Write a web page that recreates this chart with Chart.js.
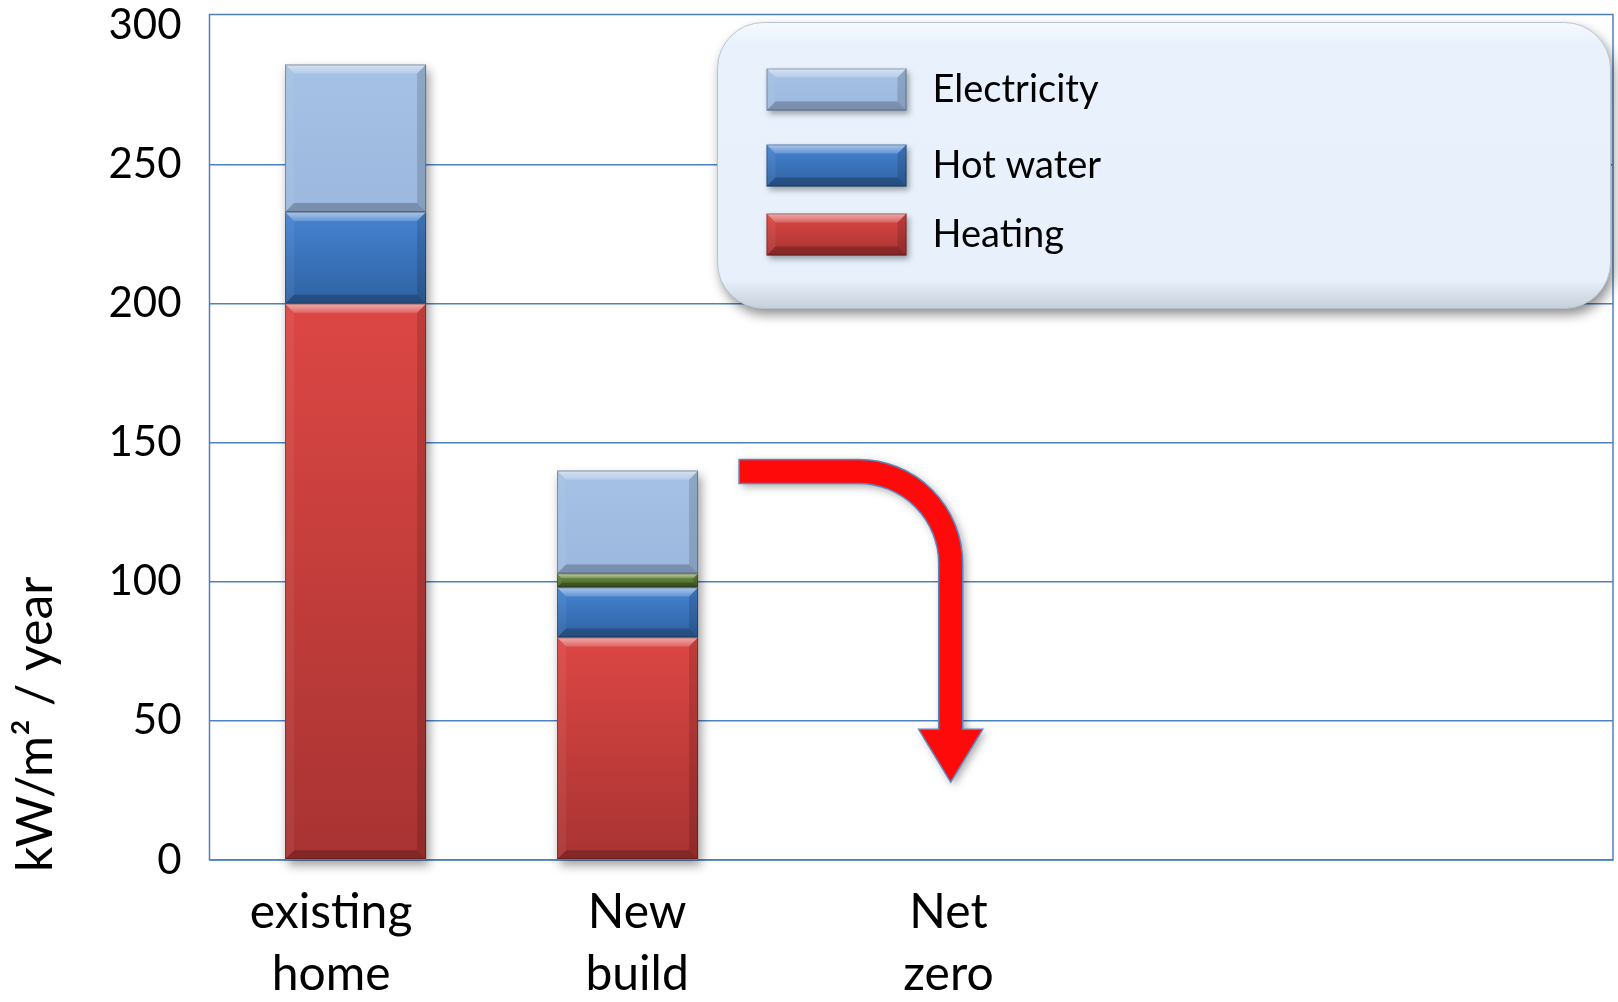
<!DOCTYPE html>
<html><head><meta charset="utf-8">
<script src="https://cdn.jsdelivr.net/npm/chart.js@4.4.1/dist/chart.umd.min.js"></script>
<style>html,body{margin:0;padding:0;background:#fff;overflow:hidden}canvas{display:block}</style>
</head><body>
<canvas id="c" width="1618" height="1002"></canvas>
<script>
// ---- data ----
const categories = ['existing home', 'New build', 'Net zero'];
const heating = [200, 80, 0];
const hotWater = [33, 18, 0];
const greenBand = [0, 5, 0];
const electricity = [53, 37, 0];
const seriesNames = ['Heating', 'Hot water', '', 'Electricity'];
const yAxisTitle = 'kW/m² / year';
const yTickStep = 50;
const yTickMax = 300;

const seriesData = [heating, hotWater, greenBand, electricity];
const palette = [
  ['#DC4744', '#A83332'],
  ['#4684D2', '#2F62A3'],
  ['#71913F', '#42602A'],
  ['#A5C1E5', '#9CB8DE']
];
const FONT = "Lato, 'Open Sans', sans-serif";
const BLUE = '#4F81BD';

function gradFill(ctx, y0, y1, s) {
  const g = ctx.createLinearGradient(0, y0, 0, y1);
  g.addColorStop(0, palette[s][0]);
  g.addColorStop(1, palette[s][1]);
  return g;
}
function fillFor(s) {
  return (c) => {
    const chart = c.chart;
    if (c.type !== 'data' || !chart.chartArea || !chart.scales.y) return palette[s][0];
    let lo = 0;
    for (let k = 0; k < s; k++) lo += seriesData[k][c.dataIndex] || 0;
    const hi = lo + (seriesData[s][c.dataIndex] || 0);
    const y = chart.scales.y;
    const y0 = y.getPixelForValue(hi), y1 = y.getPixelForValue(lo);
    if (!(y1 - y0 > 1)) return palette[s][0];
    return gradFill(chart.ctx, y0, y1, s);
  };
}
function drawBevel(ctx, x0, y0, x1, y1) {
  const b = Math.min(9, (y1 - y0) / 3, (x1 - x0) / 3);
  const poly = (pts, col) => {
    ctx.beginPath(); ctx.moveTo(pts[0][0], pts[0][1]);
    for (let i = 1; i < pts.length; i++) ctx.lineTo(pts[i][0], pts[i][1]);
    ctx.closePath(); ctx.fillStyle = col; ctx.fill();
  };
  const tg = ctx.createLinearGradient(0, y0, 0, y0 + b);
  tg.addColorStop(0, 'rgba(255,255,255,0.55)'); tg.addColorStop(1, 'rgba(255,255,255,0.18)');
  poly([[x0, y0], [x1, y0], [x1 - b, y0 + b], [x0 + b, y0 + b]], tg);
  poly([[x0, y1], [x1, y1], [x1 - b, y1 - b], [x0 + b, y1 - b]], 'rgba(0,0,0,0.22)');
  poly([[x0, y0], [x0 + b, y0 + b], [x0 + b, y1 - b], [x0, y1]], 'rgba(255,255,255,0.06)');
  poly([[x1, y0], [x1 - b, y0 + b], [x1 - b, y1 - b], [x1, y1]], 'rgba(0,0,0,0.14)');
  ctx.strokeStyle = 'rgba(0,0,0,0.28)'; ctx.lineWidth = 1;
  ctx.strokeRect(x0 + 0.5, y0 + 0.5, x1 - x0 - 1, y1 - y0 - 1);
}
function roundRect(ctx, x, y, w, h, r) {
  ctx.beginPath();
  ctx.moveTo(x + r, y);
  ctx.lineTo(x + w - r, y); ctx.arcTo(x + w, y, x + w, y + r, r);
  ctx.lineTo(x + w, y + h - r); ctx.arcTo(x + w, y + h, x + w - r, y + h, r);
  ctx.lineTo(x + r, y + h); ctx.arcTo(x, y + h, x, y + h - r, r);
  ctx.lineTo(x, y + r); ctx.arcTo(x, y, x + r, y, r);
  ctx.closePath();
}

const framePlugin = {
  id: 'frame',
  beforeDatasetsDraw(chart) {
    const ctx = chart.ctx, a = chart.chartArea, y = chart.scales.y;
    ctx.save();
    ctx.strokeStyle = BLUE; ctx.lineWidth = 1.5;
    ctx.strokeRect(a.left, a.top, a.right - a.left, a.bottom - a.top);
    const meta0 = chart.getDatasetMeta(0);
    categories.forEach((c, i) => {
      let total = 0; seriesData.forEach(s => total += s[i] || 0);
      if (!total) return;
      const el = meta0.data[i];
      const x = el.x - el.width / 2;
      const top = y.getPixelForValue(total), base = y.getPixelForValue(0);
      ctx.save();
      ctx.shadowColor = 'rgba(0,0,0,0.4)'; ctx.shadowBlur = 10; ctx.shadowOffsetX = 3; ctx.shadowOffsetY = 5;
      ctx.fillStyle = '#999'; ctx.fillRect(x, top, el.width, base - top);
      ctx.restore();
    });
    ctx.restore();
  },
  afterDatasetsDraw(chart) {
    const ctx = chart.ctx;
    ctx.save();
    chart.data.datasets.forEach((ds, d) => {
      chart.getDatasetMeta(d).data.forEach(el => {
        const top = Math.min(el.y, el.base), bot = Math.max(el.y, el.base);
        if (bot - top < 1) return;
        drawBevel(ctx, el.x - el.width / 2, top, el.x + el.width / 2, bot);
      });
    });
    // red bent arrow from New build towards Net zero
    const xs = chart.scales.x, ys = chart.scales.y;
    const sx = xs.getPixelForValue(1.41);
    const xc = xs.getPixelForValue(2.188);
    const yt = ys.getPixelForValue(144);
    const yh = ys.getPixelForValue(47);
    const ytip = ys.getPixelForValue(28);
    const t = 24, R = 104, r = R - t, hw = 32;
    const xo = xc + t / 2, xi = xc - t / 2;
    ctx.beginPath();
    ctx.moveTo(sx, yt);
    ctx.lineTo(xo - R, yt);
    ctx.arc(xo - R, yt + R, R, -Math.PI / 2, 0);
    ctx.lineTo(xo, yh);
    ctx.lineTo(xc + hw, yh);
    ctx.lineTo(xc, ytip);
    ctx.lineTo(xc - hw, yh);
    ctx.lineTo(xi, yh);
    ctx.lineTo(xi, yt + R);
    ctx.arc(xo - R, yt + R, r, 0, -Math.PI / 2, true);
    ctx.lineTo(sx, yt + t);
    ctx.closePath();
    ctx.save();
    ctx.shadowColor = 'rgba(0,0,0,0.35)'; ctx.shadowBlur = 8; ctx.shadowOffsetX = 3; ctx.shadowOffsetY = 3;
    ctx.fillStyle = '#FF0A0A'; ctx.fill();
    ctx.restore();
    ctx.strokeStyle = '#5A86C0'; ctx.lineWidth = 1.5; ctx.stroke();
    ctx.restore();
  }
};

const legendPlugin = {
  id: 'boxLegend',
  afterDraw(chart) {
    const ctx = chart.ctx, a = chart.chartArea;
    // y axis title, starting just below the zero line
    ctx.save();
    ctx.translate(36, a.bottom + 12);
    ctx.rotate(-Math.PI / 2);
    ctx.fillStyle = '#000'; ctx.font = '50px ' + FONT;
    ctx.textAlign = 'left'; ctx.textBaseline = 'middle';
    ctx.fillText(yAxisTitle, 0, 0);
    ctx.restore();

    const bx = a.left + 508, by = a.top + 8, bw = 893, bh = 286, rr = 46;
    ctx.save();
    roundRect(ctx, bx, by, bw, bh, rr);
    ctx.save();
    ctx.shadowColor = 'rgba(0,0,0,0.45)'; ctx.shadowBlur = 12; ctx.shadowOffsetX = 3; ctx.shadowOffsetY = 6;
    ctx.fillStyle = '#E9F2FC'; ctx.fill();
    ctx.restore();
    const g = ctx.createLinearGradient(0, by, 0, by + bh);
    g.addColorStop(0, '#F7FAFE'); g.addColorStop(0.07, '#E9F2FC');
    g.addColorStop(0.9, '#E7F0FB'); g.addColorStop(1, '#C6D0DB');
    ctx.fillStyle = g; ctx.fill();
    ctx.strokeStyle = 'rgba(170,185,200,0.8)'; ctx.lineWidth = 1; ctx.stroke();

    const order = [3, 1, 0];
    const rowY = [67, 143, 212];
    order.forEach((d, k) => {
      const cy = by + rowY[k];
      const sx = bx + 49, sw = 140, sh = 42, sy = cy - sh / 2;
      ctx.save();
      ctx.shadowColor = 'rgba(0,0,0,0.35)'; ctx.shadowBlur = 6; ctx.shadowOffsetX = 2; ctx.shadowOffsetY = 3;
      ctx.fillStyle = gradFill(ctx, sy, sy + sh, d);
      ctx.fillRect(sx, sy, sw, sh);
      ctx.restore();
      drawBevel(ctx, sx, sy, sx + sw, sy + sh);
      ctx.fillStyle = '#000';
      ctx.font = '38px ' + FONT;
      ctx.textBaseline = 'middle'; ctx.textAlign = 'left';
      ctx.fillText(chart.data.datasets[d].label, bx + 215, cy);
    });
    ctx.restore();
  }
};

const datasets = seriesData.map((arr, s) => ({
  label: seriesNames[s],
  data: arr.map((v, i) => ({ x: i, y: v })),
  backgroundColor: fillFor(s),
  borderWidth: 0,
  categoryPercentage: 0.576,
  barPercentage: 0.9
}));

new Chart(document.getElementById('c'), {
  type: 'bar',
  data: { datasets },
  plugins: [framePlugin, legendPlugin],
  options: {
    responsive: false,
    devicePixelRatio: 1,
    animation: false,
    layout: { padding: { top: 14.5, right: 5, left: 0, bottom: 0 } },
    plugins: { legend: { display: false }, tooltip: { enabled: false } },
    scales: {
      x: {
        type: 'linear', stacked: true, offset: false,
        min: -0.537, max: 4.623,
        grid: { display: false, drawTicks: false },
        border: { display: false },
        afterBuildTicks(scale) {
          const nudge = [-0.09, 0.035, 0.18];
          scale.ticks = categories.map((c, i) => ({ value: i + nudge[i] }));
        },
        afterFit(scale) { scale.height = 142; scale.paddingLeft = 0; scale.paddingRight = 0; },
        ticks: {
          autoSkip: false, maxRotation: 0, minRotation: 0, padding: 22,
          color: '#000', font: { family: FONT, size: 48, lineHeight: 1.28 },
          callback: (v, i) => categories[i].split(' ')
        }
      },
      y: {
        stacked: true, min: 0, max: 304,
        grid: {
          color: (c) => (c.tick && c.tick.value === yTickMax) ? 'rgba(0,0,0,0)' : BLUE,
          lineWidth: 1.5, drawTicks: false
        },
        border: { display: false },
        afterBuildTicks(scale) {
          scale.ticks = scale.ticks.filter(t => t.value <= yTickMax && t.value % yTickStep === 0);
        },
        afterFit(scale) { scale.width = 209.5; scale.paddingTop = 0; scale.paddingBottom = 0; },
        ticks: { stepSize: yTickStep, includeBounds: false, padding: 28, color: '#000', font: { family: FONT, size: 42 } },
        title: { display: false }
      }
    }
  }
});
</script>
</body></html>
